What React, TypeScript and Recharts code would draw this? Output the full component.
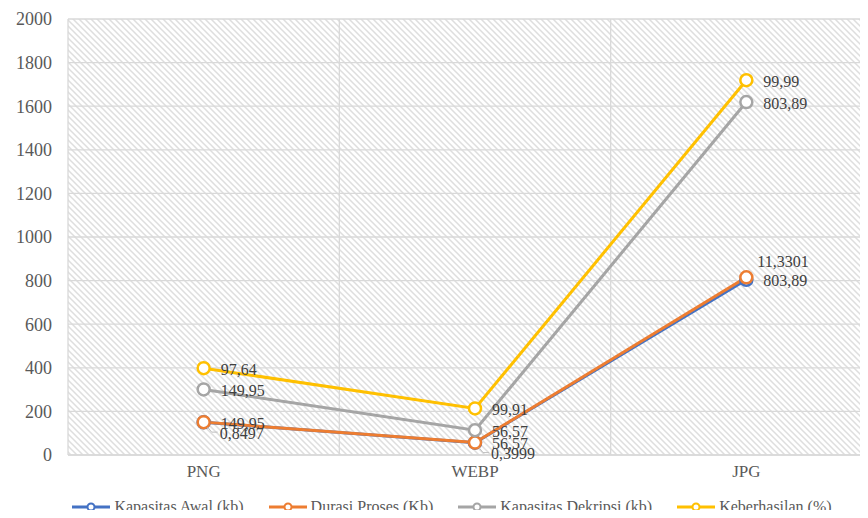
import React from "react";
import { CartesianGrid, LabelList, Line, LineChart, XAxis, YAxis } from "recharts";

const categories = ["PNG", "WEBP", "JPG"];
const kapasitasAwal = [149.95, 56.57, 803.89];
const durasiProses = [0.8497, 0.3999, 11.3301];
const kapasitasDekripsi = [149.95, 56.57, 803.89];
const keberhasilan = [97.64, 99.91, 99.99];
const yTicks = [0, 200, 400, 600, 800, 1000, 1200, 1400, 1600, 1800, 2000];

// stacked line chart: each series sits on top of the previous ones
const data = categories.map((name, i) => {
  const a = kapasitasAwal[i];
  const b = a + durasiProses[i];
  const c = b + kapasitasDekripsi[i];
  const d = c + keberhasilan[i];
  return { name, awal: a, durasi: b, dekripsi: c, hasil: d };
});

const series = [
  { key: "awal", name: "Kapasitas Awal (kb)", color: "#4472C4", raw: kapasitasAwal },
  { key: "durasi", name: "Durasi Proses (Kb)", color: "#ED7D31", raw: durasiProses },
  { key: "dekripsi", name: "Kapasitas Dekripsi (kb)", color: "#A5A5A5", raw: kapasitasDekripsi },
  { key: "hasil", name: "Keberhasilan (%)", color: "#FFC000", raw: keberhasilan }
];

const FONT = '"Liberation Serif", "Times New Roman", serif';
const fmt = (v: number) => String(v).replace(".", ",");

function makeLabel(raw: number[], placement: "right" | "orange") {
  return (props: any) => {
    const { x, y, index } = props;
    const text = fmt(raw[index]);
    if (placement === "orange") {
      if (index === raw.length - 1) {
        return (
          <text x={x + 11} y={y - 16} dy="0.35em" fontFamily={FONT} fontSize={16} fill="#404040">
            {text}
          </text>
        );
      }
      return (
        <g>
          <path d={`M${x + 4},${y + 5} L${x + 8},${y + 10} L${x + 14},${y + 10}`} stroke="#bfbfbf" fill="none" />
          <text x={x + 16} y={y + 11} dy="0.35em" fontFamily={FONT} fontSize={16} fill="#404040">
            {text}
          </text>
        </g>
      );
    }
    return (
      <text x={x + 17} y={y + 1} dy="0.35em" fontFamily={FONT} fontSize={16} fill="#404040">
        {text}
      </text>
    );
  };
}

function LegendIcon({ color }: { color: string }) {
  return (
    <svg width={38} height={10} style={{ marginRight: 4 }}>
      <line x1={0} y1={5} x2={38} y2={5} stroke={color} strokeWidth={3} />
      <circle cx={19} cy={5} r={3.5} fill="#fff" stroke={color} strokeWidth={2} />
    </svg>
  );
}

export default function App() {
  return (
    <div style={{ position: "relative", margin: -8, width: 868, height: 518, overflow: "hidden", background: "#fff" }}>
      <LineChart width={882} height={518} data={data} margin={{ top: 19, right: 0, bottom: 33, left: 0 }}>
        <defs>
          <pattern id="hatch" width={6} height={6} patternUnits="userSpaceOnUse">
            <rect width={6} height={6} fill="#ffffff" />
            <path d="M0,0 L6,6 M-1,5 L1,7 M5,-1 L7,1" stroke="#dedede" strokeWidth={1.5} />
          </pattern>
        </defs>
        <CartesianGrid
          fill="url(#hatch)"
          fillOpacity={1}
          stroke="#d9d9d9"
          strokeWidth={1.3}
          verticalCoordinatesGenerator={({ offset }: any) => {
            const step = offset.width / categories.length;
            return categories.map((_, i) => offset.left + step * i);
          }}
        />
        <XAxis
          dataKey="name"
          scale="band"
          height={30}
          tickLine={false}
          axisLine={{ stroke: "#d9d9d9", strokeWidth: 1.3 }}
          tickMargin={4}
          tick={{ fill: "#595959", fontSize: 17, fontFamily: FONT }}
        />
        <YAxis
          width={68}
          domain={[0, 2000]}
          ticks={yTicks}
          interval={0}
          tickLine={false}
          axisLine={false}
          tickMargin={10}
          tick={{ fill: "#595959", fontSize: 18, fontFamily: FONT }}
        />
        {series.map((s) => (
          <Line
            key={s.key}
            dataKey={s.key}
            name={s.name}
            stroke={s.color}
            strokeWidth={3}
            type="linear"
            dot={{ r: 6, fill: "#fff", stroke: s.color, strokeWidth: 2.5 }}
            activeDot={false}
            isAnimationActive={false}
          >
            <LabelList dataKey={s.key} content={makeLabel(s.raw, s.key === "durasi" ? "orange" : "right")} />
          </Line>
        ))}
      </LineChart>
      <div
        style={{
          position: "absolute",
          left: 0,
          right: 0,
          top: 498,
          display: "flex",
          justifyContent: "center",
          paddingLeft: 36,
          fontFamily: FONT,
          fontSize: 16,
          lineHeight: "18px",
          color: "#595959",
          gap: 25
        }}
      >
        {series.map((s) => (
          <div key={s.key} style={{ display: "flex", alignItems: "center" }}>
            <LegendIcon color={s.color} />
            <span>{s.name}</span>
          </div>
        ))}
      </div>
    </div>
  );
}
